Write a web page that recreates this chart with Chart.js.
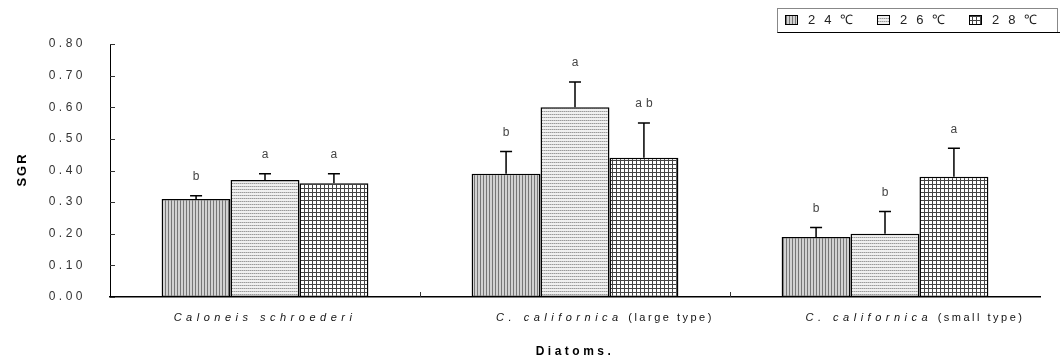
<!DOCTYPE html>
<html>
<head>
<meta charset="utf-8">
<script src="https://cdn.jsdelivr.net/npm/chart.js@4.4.0/dist/chart.umd.min.js"></script>
<style>
  html, body { margin: 0; padding: 0; background: #fff; }
  #wrap { width: 1060px; height: 364px; }
</style>
</head>
<body>
<div id="wrap"><canvas id="sgrChart"></canvas></div>
<script>
// === DATA ===
const species = ["Caloneis schroederi", "C. californica", "C. californica"];
const speciesNote = ["", "(large type)", "(small type)"];
const tempLabels = ["24℃", "26℃", "28℃"];
const sgr24 = [0.31, 0.39, 0.19];
const sgr26 = [0.37, 0.60, 0.20];
const sgr28 = [0.36, 0.44, 0.38];
const err24 = [0.01, 0.07, 0.03];
const err26 = [0.02, 0.08, 0.07];
const err28 = [0.03, 0.11, 0.09];
const sig24 = ["b", "b", "b"];
const sig26 = ["a", "a", "b"];
const sig28 = ["a", "ab", "a"];
const yTicks = [0, 0.1, 0.2, 0.3, 0.4, 0.5, 0.6, 0.7, 0.8];
const yTitle = "SGR";

const errors = [err24, err26, err28];
const letters = [sig24, sig26, sig28];
const FONT = "'Liberation Sans', Arial, sans-serif";

// === FILL PATTERNS ===
function makePattern(w, h, draw) {
  const c = document.createElement("canvas");
  c.width = w;
  c.height = h;
  const g = c.getContext("2d");
  draw(g);
  return g.createPattern(c, "repeat");
}

const vertStripes = makePattern(3, 1, (g) => {
  g.fillStyle = "#d2d2d2";
  g.fillRect(0, 0, 3, 1);
  g.fillStyle = "#767676";
  g.fillRect(0, 0, 1, 1);
});

const horizDots = makePattern(2, 3, (g) => {
  g.fillStyle = "#f0f0f0";
  g.fillRect(0, 0, 2, 3);
  g.fillStyle = "#9a9a9a";
  g.fillRect(0, 0, 1, 1);
  g.fillStyle = "#c4c4c4";
  g.fillRect(1, 0, 1, 1);
});

const gridCells = makePattern(4, 4, (g) => {
  g.fillStyle = "#ffffff";
  g.fillRect(0, 0, 4, 4);
  g.fillStyle = "#444";
  g.fillRect(0, 0, 4, 1);
  g.fillRect(0, 0, 1, 4);
});

const fills = [vertStripes, horizDots, gridCells];

function spacing(ctx, px) {
  if ("letterSpacing" in ctx) ctx.letterSpacing = px + "px";
}

// === EXTRA DRAWING: error bars, letters, ticks, labels, legend ===
const decor = {
  id: "decor",
  beforeUpdate(chart) { spacing(chart.ctx, 3.5); },
  beforeLayout(chart) { spacing(chart.ctx, 3.5); },
  beforeDraw(chart) { spacing(chart.ctx, 3.5); },
  afterDatasetsDraw(chart) {
    const ctx = chart.ctx;
    const y = chart.scales.y;
    ctx.save();
    chart.data.datasets.forEach((ds, i) => {
      const meta = chart.getDatasetMeta(i);
      meta.data.forEach((bar, j) => {
        const top = y.getPixelForValue(ds.data[j] + errors[i][j]);
        ctx.strokeStyle = "#000";
        ctx.lineWidth = 1.5;
        ctx.beginPath();
        ctx.moveTo(bar.x, bar.y);
        ctx.lineTo(bar.x, top);
        ctx.moveTo(bar.x - 6, top);
        ctx.lineTo(bar.x + 6, top);
        ctx.stroke();

        spacing(ctx, 4);
        ctx.font = "12px " + FONT;
        ctx.fillStyle = "#444";
        ctx.textAlign = "center";
        ctx.textBaseline = "middle";
        ctx.fillText(letters[i][j], bar.x + 2, top - 19);
      });
    });
    ctx.restore();
  },
  afterDraw(chart) {
    const ctx = chart.ctx;
    const { x, y } = chart.scales;
    const area = chart.chartArea;
    ctx.save();

    // inward ticks on the y axis
    ctx.strokeStyle = "#333";
    ctx.lineWidth = 1;
    ctx.beginPath();
    yTicks.forEach((v) => {
      const py = Math.round(y.getPixelForValue(v)) + 0.5;
      ctx.moveTo(area.left, py);
      ctx.lineTo(area.left + 5, py);
    });
    // category separators on the x axis
    for (let j = 0; j < species.length - 1; j++) {
      const px = Math.round((x.getPixelForValue(j) + x.getPixelForValue(j + 1)) / 2) + 0.5;
      ctx.moveTo(px, area.bottom);
      ctx.lineTo(px, area.bottom - 5);
    }
    ctx.stroke();

    // y axis title
    ctx.save();
    ctx.translate(22, (area.top + area.bottom) / 2);
    ctx.rotate(-Math.PI / 2);
    spacing(ctx, 2);
    ctx.font = "bold 13px " + FONT;
    ctx.fillStyle = "#000";
    ctx.textAlign = "center";
    ctx.textBaseline = "middle";
    ctx.fillText(yTitle, 1, 0);
    ctx.restore();

    // category labels: italic species name + plain note
    ctx.textBaseline = "middle";
    ctx.textAlign = "left";
    ctx.fillStyle = "#111";
    species.forEach((name, j) => {
      spacing(ctx, 4.5);
      ctx.font = "italic 11px " + FONT;
      const w1 = ctx.measureText(name).width;
      spacing(ctx, 2.5);
      ctx.font = "11px " + FONT;
      const note = speciesNote[j];
      const w2 = note ? ctx.measureText(" " + note).width : 0;
      const cx = x.getPixelForValue(j) + (note ? 30 : 0);
      const start = cx - (w1 + w2) / 2;
      spacing(ctx, 4.5);
      ctx.font = "italic 11px " + FONT;
      ctx.fillText(name, start, area.bottom + 21);
      if (note) {
        spacing(ctx, 2.5);
        ctx.font = "11px " + FONT;
        ctx.fillText(" " + note, start + w1, area.bottom + 21);
      }
    });

    // legend
    const x0 = area.right - 255;
    ctx.strokeStyle = "#888";
    ctx.lineWidth = 1;
    ctx.strokeRect(x0 - 7.5, 8.5, chart.width - x0 + 5, 24);
    ctx.strokeStyle = "#000";
    ctx.beginPath();
    ctx.moveTo(x0 - 7.5, 32.5);
    ctx.lineTo(chart.width, 32.5);
    ctx.stroke();
    tempLabels.forEach((lab, i) => {
      const bx = x0 + i * 92;
      ctx.fillStyle = fills[i];
      ctx.fillRect(bx, 15, 12, 9);
      ctx.strokeStyle = "#000";
      ctx.strokeRect(bx + 0.5, 15.5, 12, 9);
      spacing(ctx, 9);
      ctx.font = "13px " + FONT;
      ctx.fillStyle = "#222";
      ctx.textAlign = "left";
      ctx.fillText(lab, bx + 23, 20);
    });
    ctx.restore();
    spacing(ctx, 3.5);
  },
};

// === CHART ===
const ctx = document.getElementById("sgrChart").getContext("2d");
const sgrChart = new Chart(ctx, {
  type: "bar",
  data: {
    labels: species,
    datasets: [
      { label: tempLabels[0], data: sgr24, backgroundColor: vertStripes },
      { label: tempLabels[1], data: sgr26, backgroundColor: horizDots },
      { label: tempLabels[2], data: sgr28, backgroundColor: gridCells },
    ].map((d) => ({
      ...d,
      borderColor: "#000",
      borderWidth: 1.5,
      borderSkipped: false,
      barPercentage: 1,
      categoryPercentage: 0.667,
    })),
  },
  options: {
    responsive: true,
    maintainAspectRatio: false,
    animation: false,
    events: [],
    layout: { padding: { top: 44, right: 20, bottom: 5, left: 0 } },
    scales: {
      x: {
        grid: { display: false, drawTicks: false },
        border: { display: true, color: "#000", width: 1.5 },
        ticks: {
          color: "rgba(0,0,0,0)",
          padding: 6.7,
          font: { size: 11, family: FONT },
        },
        title: {
          display: true,
          text: "Diatoms.",
          color: "#000",
          font: { size: 12, weight: "bold", family: FONT },
          padding: { top: 21, bottom: 0 },
        },
      },
      y: {
        min: 0,
        max: 0.8,
        afterFit: (scale) => { scale.width = 110; },
        afterBuildTicks: (scale) => {
          scale.ticks = yTicks.map((v) => ({ value: v }));
        },
        grid: { display: false, drawTicks: false },
        border: { display: true, color: "#000", width: 1 },
        ticks: {
          color: "#333",
          padding: 24,
          font: { size: 12, family: FONT },
          callback: (v) => Number(v).toFixed(2),
        },
      },
    },
    plugins: {
      legend: { display: false },
      tooltip: { enabled: false },
    },
  },
  plugins: [decor],
});
</script>
</body>
</html>
